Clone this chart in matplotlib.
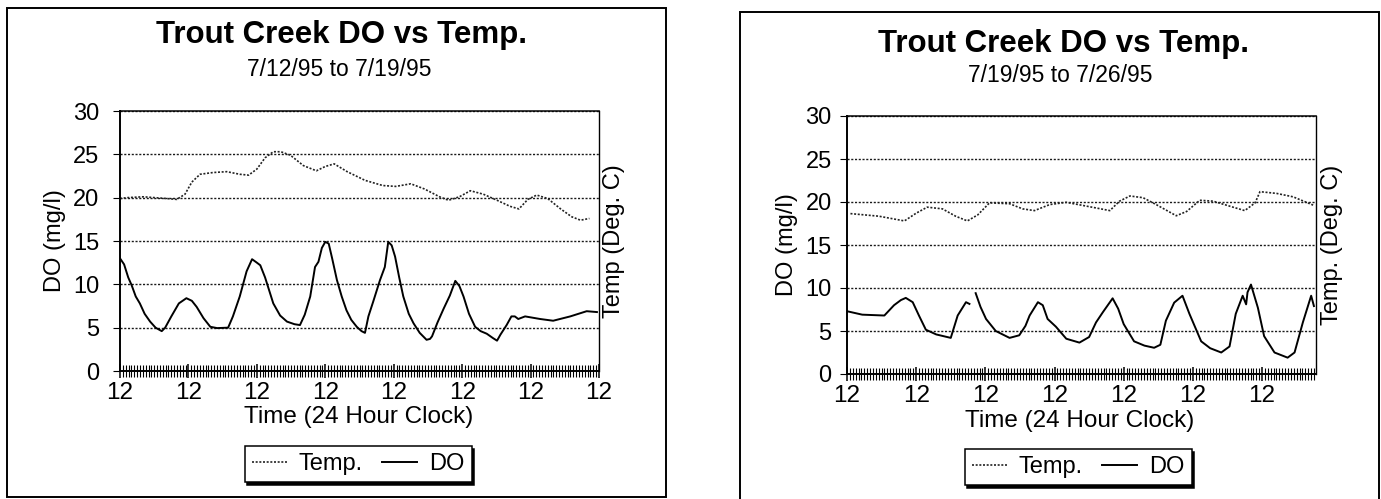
import matplotlib
matplotlib.use("Agg")
import matplotlib.pyplot as plt
import numpy as np
from matplotlib.patches import Rectangle
from matplotlib.lines import Line2D
from matplotlib.ticker import MultipleLocator, FixedLocator

plt.rcParams['font.family'] = ['Liberation Sans', 'DejaVu Sans']

# ---- data (x = days since first noon, y = mg/l or deg C) ----
left_do_day = [0.0, 0.06, 0.12, 0.17, 0.23, 0.29, 0.36, 0.44, 0.52, 0.61, 0.66, 0.75, 0.86, 0.97,
               1.05, 1.12, 1.22, 1.32, 1.42, 1.58, 1.65, 1.75, 1.85, 1.93, 2.0, 2.05, 2.12, 2.24,
               2.34, 2.44, 2.55, 2.63, 2.7, 2.78, 2.85, 2.9, 2.95, 3.0, 3.05, 3.1, 3.17, 3.24,
               3.31, 3.38, 3.46, 3.53, 3.58, 3.63, 3.7, 3.8, 3.87, 3.92, 3.97, 4.02, 4.08, 4.14,
               4.22, 4.29, 4.38, 4.48, 4.53, 4.56, 4.64, 4.73, 4.82, 4.9, 4.96, 5.02, 5.1, 5.19,
               5.27, 5.36, 5.45, 5.51, 5.56, 5.65, 5.72, 5.77, 5.82, 5.92, 6.14, 6.33, 6.58, 6.82, 6.97]
left_do = [13.0, 12.3, 10.8, 9.9, 8.6, 7.8, 6.6, 5.7, 5.0, 4.6, 5.0, 6.3, 7.8, 8.4,
           8.1, 7.4, 6.1, 5.1, 4.95, 5.0, 6.3, 8.6, 11.5, 12.9, 12.5, 12.2, 10.8, 7.8,
           6.4, 5.7, 5.4, 5.3, 6.5, 8.6, 12.0, 12.6, 14.2, 14.9, 14.7, 13.0, 10.5, 8.6,
           7.0, 5.9, 5.1, 4.6, 4.4, 6.3, 8.0, 10.5, 12.0, 14.9, 14.5, 13.2, 10.8, 8.6,
           6.6, 5.5, 4.4, 3.6, 3.7, 4.0, 5.6, 7.2, 8.7, 10.4, 9.8, 8.6, 6.6, 5.1,
           4.6, 4.3, 3.8, 3.5, 4.2, 5.3, 6.3, 6.3, 6.0, 6.3, 6.0, 5.8, 6.3, 6.9, 6.8]

left_temp_day = [0.0, 0.1, 0.34, 0.68, 0.83, 0.95, 1.05, 1.17, 1.36, 1.56, 1.75, 1.88, 2.0, 2.12,
                 2.24, 2.35, 2.49, 2.68, 2.87, 3.0, 3.13, 3.32, 3.58, 3.84, 4.03, 4.25, 4.45,
                 4.67, 4.8, 4.96, 5.12, 5.31, 5.51, 5.7, 5.83, 5.96, 6.09, 6.25, 6.44, 6.6, 6.73, 6.86]
left_temp = [19.9, 20.0, 20.1, 19.9, 19.8, 20.4, 21.8, 22.7, 22.9, 23.0, 22.7, 22.6, 23.3, 24.6,
             25.3, 25.3, 24.9, 23.7, 23.1, 23.6, 23.9, 23.0, 22.0, 21.4, 21.3, 21.6, 21.0,
             20.1, 19.7, 20.1, 20.8, 20.4, 19.7, 19.0, 18.7, 19.8, 20.3, 19.9, 18.7, 17.8, 17.4, 17.6]

right_do_day = [0.0, 0.22, 0.54, 0.68, 0.78, 0.85, 0.95, 1.04, 1.14, 1.29, 1.5, 1.55, 1.6, 1.72, 1.77,
                1.8,
                1.86, 1.93, 2.01, 2.15, 2.35, 2.49, 2.58, 2.64, 2.76, 2.83, 2.9, 3.02, 3.17, 3.36,
                3.5, 3.6, 3.7, 3.84, 3.92, 4.0, 4.15, 4.3, 4.44, 4.53, 4.61, 4.73, 4.85, 4.95,
                5.12, 5.25, 5.41, 5.53, 5.62, 5.72, 5.77, 5.79, 5.84, 5.94, 6.03, 6.18, 6.37,
                6.47, 6.59, 6.71, 6.75]
right_do = [7.3, 6.9, 6.8, 8.0, 8.6, 8.85, 8.35, 6.8, 5.15, 4.6, 4.2, 5.5, 6.8, 8.35, 8.15,
            np.nan,
            9.4, 7.8, 6.4, 5.0, 4.2, 4.5, 5.6, 6.8, 8.35, 8.0, 6.4, 5.5, 4.1, 3.65,
            4.3, 6.0, 7.2, 8.8, 7.6, 5.8, 3.8, 3.3, 3.05, 3.4, 6.2, 8.3, 9.1, 7.0,
            3.8, 3.0, 2.5, 3.2, 7.0, 9.1, 8.1, 9.5, 10.4, 7.7, 4.4, 2.5, 1.9,
            2.5, 6.0, 9.1, 7.9]

right_temp_day = [0.05, 0.46, 0.83, 1.0, 1.16, 1.38, 1.57, 1.74, 1.89, 2.06, 2.35, 2.54, 2.71,
                  2.93, 3.17, 3.41, 3.8, 3.94, 4.09, 4.28, 4.47, 4.76, 4.91, 5.1, 5.29, 5.58,
                  5.75, 5.9, 5.97, 6.21, 6.45, 6.6, 6.75]
right_temp = [18.65, 18.35, 17.8, 18.7, 19.4, 19.2, 18.35, 17.8, 18.5, 19.9, 19.8, 19.2, 19.0,
              19.7, 19.96, 19.6, 19.0, 20.1, 20.7, 20.5, 19.7, 18.4, 18.9, 20.2, 20.1, 19.4,
              19.0, 19.9, 21.2, 21.0, 20.6, 20.1, 19.6]

title = "Trout Creek DO vs Temp."
subtitles = ["7/12/95 to 7/19/95", "7/19/95 to 7/26/95"]
right_labels = ["Temp (Deg. C)", "Temp. (Deg. C)"]
y_ticks = [0, 5, 10, 15, 20, 25, 30]
W, H = 1381, 499


def fx(px):
    return px / W


def fy(py):
    return 1 - py / H


fig = plt.figure(figsize=(13.81, 4.99), dpi=100)

# outer chart frames
fig.add_artist(Rectangle((fx(7), fy(497)), fx(659), 489 / H, transform=fig.transFigure,
                         fill=False, lw=1.4, ec='black'))
fig.add_artist(Rectangle((fx(740), -0.02), fx(639), fy(12) + 0.02, transform=fig.transFigure,
                         fill=False, lw=1.4, ec='black'))


def draw_panel(box, xmax, nlabels, do_x, do_y, t_x, t_y, ypad):
    left, top, right, bottom = box
    ax = fig.add_axes((fx(left), fy(bottom), fx(right - left), (bottom - top) / H))
    ax.plot(t_x, t_y, color='#222222', lw=1.2, ls=(0, (1.2, 1.0)))
    ax.plot(do_x, do_y, color='black', lw=1.4)
    ax.set_xlim(0, xmax)
    ax.set_ylim(0, 30)
    ax.set_yticks(y_ticks)
    ax.set_yticklabels([str(v) for v in y_ticks], fontsize=17)
    ax.xaxis.set_major_locator(FixedLocator(list(range(nlabels))))
    ax.set_xticklabels(["12"] * nlabels, fontsize=17.5)
    ax.xaxis.set_minor_locator(MultipleLocator(1 / 24))
    ax.tick_params(axis='x', which='major', direction='inout', length=10, width=1.1, pad=3)
    ax.tick_params(axis='x', which='minor', direction='inout', length=9, width=0.8)
    ax.tick_params(axis='y', direction='out', length=5, width=0.8, pad=ypad)
    ax.grid(axis='y', color='#1a1a1a', lw=1.0, ls=(0, (1.5, 1.2)))
    for s in ['left', 'bottom']:
        ax.spines[s].set_linewidth(1.4)
    ax.spines['top'].set_linewidth(1.1)
    ax.spines['right'].set_linewidth(1.0)
    ax.spines['right'].set_linestyle((0, (4, 1)))
    return ax


ax1 = draw_panel((120, 111, 599, 371), 7, 8, left_do_day, left_do, left_temp_day, left_temp, 10)
ax2 = draw_panel((847, 116, 1316, 374), 6.78, 7, right_do_day, right_do, right_temp_day, right_temp, 6)

# titles and axis labels
centers = [dict(title=(341, 35), sub=(339, 70), ylab=(55, 241), rlab=(614, 241), xlab=(359, 417), leg=(358, 464)),
           dict(title=(1064, 44), sub=(1060, 76), ylab=(787, 245), rlab=(1332, 245), xlab=(1080, 421), leg=(1078, 467))]

for i, c in enumerate(centers):
    fig.text(fx(c['title'][0]), fy(c['title'][1]), title, fontsize=22.5, fontweight='bold',
             ha='center', va='center')
    fig.text(fx(c['sub'][0]), fy(c['sub'][1]), subtitles[i], fontsize=16.5, ha='center', va='center')
    fig.text(fx(c['ylab'][0]), fy(c['ylab'][1]), "DO (mg/l)", fontsize=17, rotation=90,
             ha='center', va='center')
    fig.text(fx(c['rlab'][0]), fy(c['rlab'][1]), right_labels[i], fontsize=17, rotation=90,
             ha='center', va='center')
    fig.text(fx(c['xlab'][0]), fy(c['xlab'][1]), "Time (24 Hour Clock)", fontsize=17.5,
             ha='center', va='center')
    handles = [Line2D([], [], color='#222222', lw=1.2, ls=(0, (1.2, 1.0))),
               Line2D([], [], color='black', lw=1.4)]
    leg = fig.legend(handles, ["Temp.", "DO"], loc='center',
                     bbox_to_anchor=(fx(c['leg'][0]), fy(c['leg'][1])), ncol=2, fontsize=17,
                     frameon=True, fancybox=False, shadow={'shade': 1.0, 'alpha': 1.0},
                     edgecolor='black', framealpha=1, borderpad=0.3, handlelength=1.5,
                     handletextpad=0.5, columnspacing=0.8, borderaxespad=0)
    leg.get_frame().set_linewidth(1.1)

fig.savefig("out.png", dpi=100)
